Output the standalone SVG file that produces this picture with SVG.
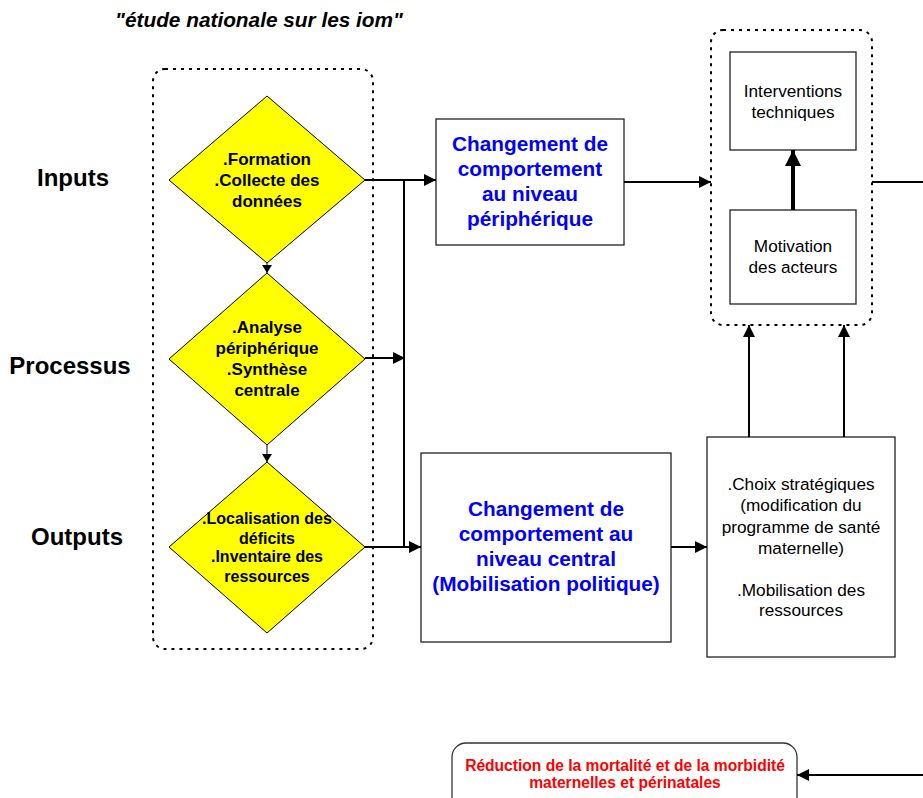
<svg xmlns="http://www.w3.org/2000/svg" width="923" height="798" viewBox="0 0 923 798">
<style>
text{font-family:"Liberation Sans",Arial,sans-serif;text-anchor:middle}
.lbl{font-size:24px;font-weight:bold;fill:#000}
.dia{fill:#ffff00;stroke:#000;stroke-width:1}
.dt{font-size:17px;font-weight:bold;fill:#000}
.box{fill:#fff;stroke:#222;stroke-width:1.3}
.bt{font-size:20.8px;font-weight:bold;fill:#0000ff}
.nt{font-size:17.2px;fill:#000}
.dash{fill:none;stroke:#000;stroke-width:2;stroke-dasharray:3 5}
.c{fill:none;stroke:#000;stroke-width:2}
</style>
<defs>
<marker id="ah" markerUnits="userSpaceOnUse" markerWidth="13" markerHeight="12" refX="12" refY="6" orient="auto">
<path d="M0,0 L12,6 L0,12 z" fill="#000"/>
</marker>
<marker id="ahs" markerUnits="userSpaceOnUse" markerWidth="9" markerHeight="10" refX="8" refY="5" orient="auto">
<path d="M0,0 L8,5 L0,10 z" fill="#000"/>
</marker>
<marker id="ahb" markerUnits="userSpaceOnUse" markerWidth="18" markerHeight="16" refX="16" refY="8" orient="auto">
<path d="M0,0 L16,8 L0,16 z" fill="#000"/>
</marker>
</defs>

<text x="259" y="27" style="font-size:20.8px;font-weight:bold;font-style:italic">"étude nationale sur les iom"</text>

<g id="label-inputs"><text class="lbl" x="73" y="186">Inputs</text></g>
<g id="label-processus"><text class="lbl" x="70" y="374">Processus</text></g>
<g id="label-outputs"><text class="lbl" x="77" y="545">Outputs</text></g>

<g id="group-left"><rect class="dash" x="153" y="69" width="220" height="580" rx="12"/></g>
<g id="group-right"><rect class="dash" x="711" y="30" width="161" height="295" rx="12"/></g>

<g id="diamond1">
<polygon class="dia" points="267,96 365,180 267,263 169,180"/>
<text class="dt" x="267" y="165">.Formation</text>
<text class="dt" x="267" y="186">.Collecte des</text>
<text class="dt" x="267" y="207">données</text>
</g>
<g id="diamond2">
<polygon class="dia" points="267,273 365,359 267,445 169,359"/>
<text class="dt" x="267" y="333">.Analyse</text>
<text class="dt" x="267" y="354">périphérique</text>
<text class="dt" x="267" y="375">.Synthèse</text>
<text class="dt" x="267" y="396">centrale</text>
</g>
<g id="diamond3">
<polygon class="dia" points="267,462 365,547 267,633 169,547"/>
<text class="dt" x="267" y="524" style="font-size:16px">.Localisation des</text>
<text class="dt" x="267" y="544" style="font-size:16px">déficits</text>
<text class="dt" x="267" y="562" style="font-size:16px">.Inventaire des</text>
<text class="dt" x="267" y="582" style="font-size:16px">ressources</text>
</g>

<g id="box-peripherique">
<rect class="box" x="436" y="119" width="188" height="126"/>
<text class="bt" x="530" y="151">Changement de</text>
<text class="bt" x="530" y="176">comportement</text>
<text class="bt" x="530" y="201">au niveau</text>
<text class="bt" x="530" y="226">périphérique</text>
</g>

<g id="box-central">
<rect class="box" x="421" y="453" width="250" height="189"/>
<text class="bt" x="546" y="516">Changement de</text>
<text class="bt" x="546" y="541">comportement au</text>
<text class="bt" x="546" y="566">niveau central</text>
<text class="bt" x="546" y="591">(Mobilisation politique)</text>
</g>

<g id="box-interventions">
<rect class="box" x="730" y="52" width="126" height="98"/>
<text class="nt" x="793" y="97">Interventions</text>
<text class="nt" x="793" y="118">techniques</text>
</g>

<g id="box-motivation">
<rect class="box" x="730" y="210" width="126" height="94"/>
<text class="nt" x="793" y="252">Motivation</text>
<text class="nt" x="793" y="273">des acteurs</text>
</g>

<g id="box-choix">
<rect class="box" x="707" y="437" width="188" height="220"/>
<text class="nt" x="801" y="490">.Choix stratégiques</text>
<text class="nt" x="801" y="511">(modification du</text>
<text class="nt" x="801" y="533">programme de santé</text>
<text class="nt" x="801" y="554">maternelle)</text>
<text class="nt" x="801" y="596">.Mobilisation des</text>
<text class="nt" x="801" y="616">ressources</text>
</g>

<g id="box-reduction">
<rect x="452" y="743" width="345" height="70" rx="14" fill="#fff" stroke="#333" stroke-width="1.3"/>
<text x="625" y="771" style="font-size:15.6px;font-weight:bold;fill:#ff0000">Réduction de la mortalité et de la morbidité</text>
<text x="625" y="788" style="font-size:15.6px;font-weight:bold;fill:#ff0000">maternelles et périnatales</text>
</g>

<g id="connectors">
<path class="c" d="M365,180 H436" marker-end="url(#ah)"/>
<path class="c" d="M404,180 V547"/>
<path class="c" d="M365,358 H405" marker-end="url(#ah)"/>
<path class="c" d="M365,547 H421" marker-end="url(#ah)"/>
<path d="M267,263 V273" stroke="#000" stroke-width="1" marker-end="url(#ahs)"/>
<path d="M267,445 V462" stroke="#000" stroke-width="1" marker-end="url(#ahs)"/>
<path class="c" d="M624,182 H711" marker-end="url(#ah)"/>
<path d="M793,210 V150" stroke="#000" stroke-width="4" fill="none" marker-end="url(#ahb)"/>
<path class="c" d="M872,182 H923"/>
<path class="c" d="M671,547 H707" marker-end="url(#ah)"/>
<path class="c" d="M749,437 V325" marker-end="url(#ah)"/>
<path class="c" d="M844,437 V325" marker-end="url(#ah)"/>
<path class="c" d="M923,775 H797" marker-end="url(#ah)"/>
</g>
</svg>
